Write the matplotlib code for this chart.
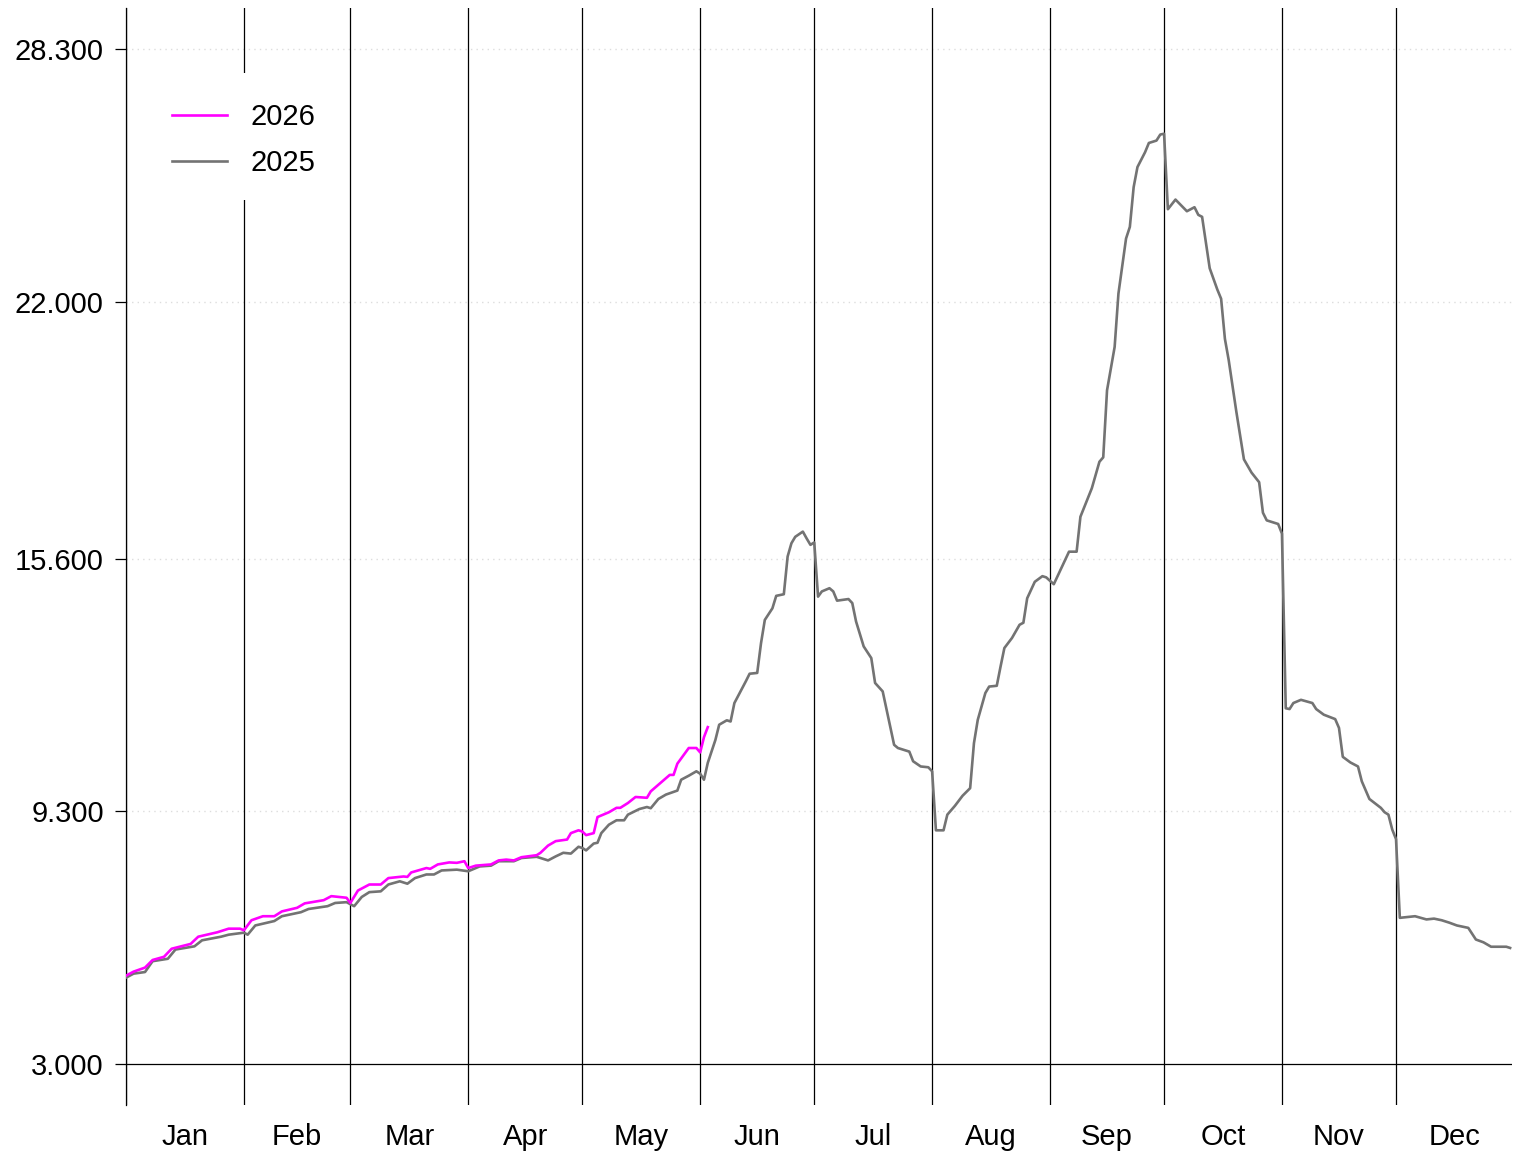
import numpy as np
import matplotlib.pyplot as plt
from matplotlib.patches import Rectangle

plt.rcParams['font.family'] = ['Liberation Sans', 'DejaVu Sans']

months = ['Jan', 'Feb', 'Mar', 'Apr', 'May', 'Jun',
          'Jul', 'Aug', 'Sep', 'Oct', 'Nov', 'Dec']
month_days = [31, 28, 31, 30, 31, 30, 31, 31, 30, 31, 30, 31]
y_ticks = [3.0, 9.3, 15.6, 22.0, 28.3]

# day of year (0 = 1 Jan) and value
days_2025 = [0, 2, 5, 7, 11, 13, 18, 20, 25, 27, 31, 32, 34, 39, 41, 46, 48, 53, 55, 58,
             60, 62, 64, 67, 69, 72, 74, 76, 79, 81, 83, 87, 90, 91, 93, 96, 98, 102, 104, 108,
             111, 113, 115, 117, 119, 120, 121, 123, 124, 125, 127, 129, 131, 132, 135, 137, 138, 140, 142, 145,
             146, 148, 150, 151, 152, 153, 155, 156, 158, 159, 160, 163, 164, 166, 167, 168, 170, 171, 173, 174,
             175, 176, 178, 179, 180, 181, 182, 183, 185, 186, 187, 190, 191, 192, 194, 196, 197, 199, 202, 203,
             206, 207, 209, 211, 212, 213, 215, 216, 218, 220, 222, 223, 224, 226, 227, 229, 230, 231, 233, 235,
             236, 237, 239, 241, 242, 244, 248, 250, 251, 254, 256, 257, 258, 260, 261, 263, 264, 265, 266, 268,
             269, 271, 272, 273, 274, 276, 279, 281, 282, 283, 285, 287, 288, 289, 290, 292, 294, 296, 298, 299,
             300, 303, 304, 305, 306, 307, 309, 312, 313, 315, 318, 319, 320, 322, 324, 325, 327, 330, 331, 332,
             333, 334, 335, 337, 339, 342, 344, 346, 348, 350, 353, 355, 357, 359, 363, 364]
vals_2025 = [5.16, 5.26, 5.30, 5.57, 5.63, 5.86, 5.94, 6.09, 6.18, 6.23, 6.28, 6.23, 6.46, 6.57, 6.69, 6.79, 6.87, 6.94, 7.02, 7.04,
             6.94, 7.17, 7.29, 7.31, 7.48, 7.56, 7.50, 7.64, 7.73, 7.73, 7.83, 7.85, 7.81, 7.85, 7.93, 7.95, 8.06, 8.06, 8.14, 8.17,
             8.08, 8.18, 8.27, 8.25, 8.42, 8.39, 8.33, 8.50, 8.52, 8.76, 8.97, 9.08, 9.08, 9.22, 9.36, 9.41, 9.38, 9.61, 9.72, 9.82,
             10.09, 10.19, 10.30, 10.24, 10.09, 10.51, 11.08, 11.46, 11.57, 11.54, 12.00, 12.54, 12.73, 12.75, 13.49, 14.07, 14.36, 14.67, 14.71, 15.65,
             15.98, 16.14, 16.27, 16.10, 15.94, 16.00, 14.65, 14.78, 14.86, 14.78, 14.55, 14.59, 14.49, 14.03, 13.41, 13.12, 12.50, 12.29, 10.96, 10.88,
             10.79, 10.55, 10.42, 10.40, 10.30, 8.83, 8.83, 9.22, 9.44, 9.69, 9.88, 11.00, 11.58, 12.25, 12.41, 12.43, 12.91, 13.37, 13.62, 13.95,
             14.00, 14.61, 15.02, 15.16, 15.13, 14.96, 15.77, 15.77, 16.64, 17.35, 18.01, 18.12, 19.79, 20.87, 22.20, 23.57, 23.86, 24.85, 25.35, 25.72,
             25.95, 26.01, 26.16, 26.18, 24.30, 24.54, 24.25, 24.35, 24.16, 24.11, 22.83, 22.30, 22.07, 21.07, 20.54, 19.26, 18.07, 17.74, 17.50, 16.74,
             16.55, 16.46, 16.22, 11.87, 11.85, 12.00, 12.08, 12.00, 11.85, 11.71, 11.60, 11.38, 10.66, 10.52, 10.42, 10.05, 9.61, 9.39, 9.28, 9.22,
             8.85, 8.61, 6.65, 6.67, 6.69, 6.61, 6.63, 6.59, 6.53, 6.46, 6.40, 6.11, 6.04, 5.93, 5.93, 5.90]

days_2026 = [0, 2, 5, 7, 10, 12, 17, 19, 24, 27, 30, 31, 33, 36, 39, 41, 45, 47, 52, 54,
             58, 59, 61, 64, 67, 69, 73, 74, 75, 79, 80, 82, 85, 87, 89, 90, 92, 96, 98, 100,
             102, 104, 108, 109, 111, 113, 116, 117, 119, 120, 121, 123, 124, 127, 129, 130, 132, 134, 137, 138,
             143, 144, 145, 147, 148, 150, 151, 152, 153]
vals_2026 = [5.21, 5.31, 5.41, 5.60, 5.68, 5.88, 6.00, 6.18, 6.29, 6.38, 6.38, 6.34, 6.59, 6.69, 6.69, 6.81, 6.90, 7.01, 7.09, 7.19,
             7.15, 7.02, 7.33, 7.48, 7.48, 7.64, 7.68, 7.67, 7.78, 7.89, 7.87, 7.98, 8.03, 8.02, 8.06, 7.89, 7.95, 7.98, 8.08, 8.10,
             8.08, 8.16, 8.21, 8.27, 8.45, 8.56, 8.60, 8.76, 8.83, 8.80, 8.71, 8.76, 9.16, 9.28, 9.39, 9.39, 9.51, 9.66, 9.64, 9.80,
             10.21, 10.21, 10.49, 10.75, 10.88, 10.88, 10.77, 11.15, 11.40]

month_starts = np.concatenate([[0], np.cumsum(month_days)[:-1]])
month_mids = month_starts + np.array(month_days) / 2.0

fig = plt.figure(figsize=(15.13, 11.54), dpi=100)
ax = fig.add_axes([126 / 1513, 1 - 1105 / 1154, 1386 / 1513, 1097 / 1154])

yr = y_ticks[-1] - y_ticks[0]
ax.set_ylim(y_ticks[0] - 0.04 * yr, y_ticks[-1] + 0.04 * yr)
ax.set_xlim(0, 364.5)

for y in y_ticks[1:]:
    ax.axhline(y, color='#dddddd', lw=1, ls=(0, (1, 3)), zorder=1)
ax.axhline(y_ticks[0], color='black', lw=0.9, zorder=2)
for d in month_starts:
    ax.axvline(d, color='black', lw=0.9, zorder=2)

ax.plot(days_2025, vals_2025, color='#737373', lw=1.9, label='2025', zorder=3)
ax.plot(days_2026, vals_2026, color='#ff00ff', lw=1.9, label='2026', zorder=4)

for s in ['top', 'right', 'bottom']:
    ax.spines[s].set_visible(False)
ax.spines['left'].set_linewidth(0.9)

ax.set_yticks(y_ticks)
ax.set_yticklabels(['%.3f' % v for v in y_ticks], fontsize=21)
ax.tick_params(axis='y', length=8, width=0.9, pad=8, colors='black')

ax.set_xticks(month_mids)
ax.set_xticklabels(months, fontsize=21)
ax.tick_params(axis='x', length=0, pad=13)

# white legend box (R style, no border)
ax.add_patch(Rectangle((0.017, 0.825), 0.137, 0.116, transform=ax.transAxes,
                       facecolor='white', edgecolor='none', zorder=9))
h, l = ax.get_legend_handles_labels()
leg = ax.legend(h[::-1], l[::-1], loc='upper left', bbox_to_anchor=(0.033, 0.9135),
                borderaxespad=0, fontsize=21, frameon=False, handlelength=1.9,
                handletextpad=0.8, labelspacing=0.62, borderpad=0)
leg.set_zorder(10)

plt.savefig('out.png', dpi=100)
